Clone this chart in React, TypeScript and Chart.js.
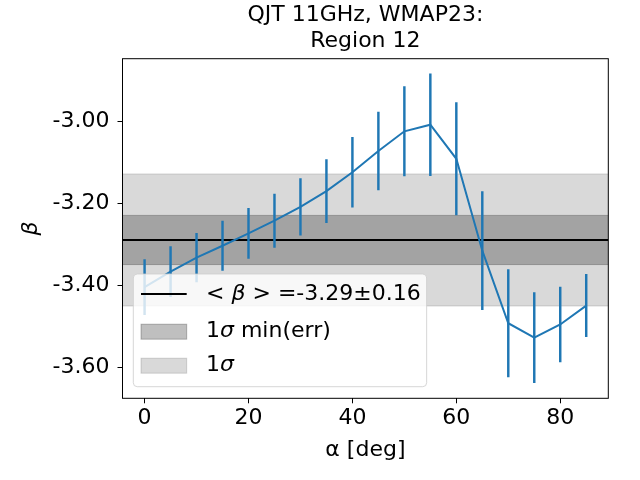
import React, { useEffect, useRef } from "react";
import { Chart, registerables } from "chart.js";

Chart.register(...registerables);

const FONT = "DejaVu Sans";

// angle of the axis [deg]
const alphaDeg = [0, 5, 10, 15, 20, 25, 30, 35, 40, 45, 50, 55, 60, 65, 70, 75, 80, 85];
// spectral index and its 1 sigma error
const betaValues = [
  -3.404, -3.366, -3.332, -3.303, -3.273, -3.242, -3.208, -3.17, -3.124,
  -3.072, -3.024, -3.008, -3.091, -3.315, -3.492, -3.527, -3.495, -3.449,
];
const betaErrors = [
  0.067, 0.061, 0.059, 0.06, 0.061, 0.065, 0.069, 0.077, 0.085,
  0.095, 0.109, 0.124, 0.137, 0.144, 0.131, 0.11, 0.091, 0.076,
];

const meanBeta = -3.289;
const sigmaBeta = 0.161;
const minErrBeta = 0.06;

const xLimits = [-4.25, 89.25];
const yLimits = [-3.675, -2.847];
const xTicks = [0, 20, 40, 60, 80];
const yTicks = [-3.6, -3.4, -3.2, -3.0];

const titleLines = ["QJT 11GHz, WMAP23:", "Region 12"];

const blue = "#1f77b4";
const darkFill = "rgba(0,0,0,0.25)";
const lightFill = "rgba(0,0,0,0.15)";

// draws greek letters in italic, like matplotlib mathtext
const richParts = (text: string) => text.split(/([αβσ])/).filter((p) => p.length > 0);
const partFont = (p: string) => (/[αβσ]/.test(p) ? `italic 22px "${FONT}"` : `22px "${FONT}"`);

const measureRich = (ctx: CanvasRenderingContext2D, text: string) => {
  let w = 0;
  for (const p of richParts(text)) {
    ctx.font = partFont(p);
    w += ctx.measureText(p).width;
  }
  return w;
};

const drawRich = (ctx: CanvasRenderingContext2D, text: string, x: number, y: number) => {
  let cx = x;
  for (const p of richParts(text)) {
    ctx.font = partFont(p);
    ctx.fillText(p, cx, y);
    cx += ctx.measureText(p).width;
  }
};

const framePlugin = {
  id: "frame",
  afterDatasetsDraw(chart: Chart) {
    const { ctx, chartArea } = chart;
    ctx.save();
    ctx.strokeStyle = "black";
    ctx.lineWidth = 1;
    ctx.strokeRect(chartArea.left, chartArea.top, chartArea.right - chartArea.left, chartArea.bottom - chartArea.top);
    ctx.restore();
  },
};

const insetLegend = {
  id: "insetLegend",
  afterDatasetsDraw(chart: Chart, _args: any, opts: any) {
    const { ctx, chartArea } = chart;
    const items = opts.items as { label: string; kind: string; color: string }[];
    const rows = [20, 57.7, 91.7];
    ctx.save();
    let textW = 0;
    items.forEach((it) => (textW = Math.max(textW, measureRich(ctx, it.label))));
    const left = chartArea.left + 10.8;
    const height = 112.7;
    const top = chartArea.bottom - 11.6 - height;
    const width = 72.7 + textW + 6;

    ctx.beginPath();
    ctx.roundRect(left, top, width, height, 4);
    ctx.fillStyle = "rgba(255,255,255,0.8)";
    ctx.fill();
    ctx.strokeStyle = "rgba(204,204,204,0.8)";
    ctx.lineWidth = 1;
    ctx.stroke();

    items.forEach((it, i) => {
      const cy = top + rows[i];
      const hx = left + 7.7;
      if (it.kind === "line") {
        ctx.strokeStyle = it.color;
        ctx.lineWidth = 2;
        ctx.beginPath();
        ctx.moveTo(hx, cy);
        ctx.lineTo(hx + 45.7, cy);
        ctx.stroke();
      } else {
        ctx.fillStyle = it.color;
        ctx.fillRect(hx, cy - 7.5, 45.7, 15);
        ctx.strokeStyle = it.color;
        ctx.lineWidth = 1;
        ctx.strokeRect(hx, cy - 7.5, 45.7, 15);
      }
      ctx.fillStyle = "black";
      ctx.textBaseline = "middle";
      ctx.textAlign = "left";
      drawRich(ctx, it.label, left + 72.7, cy);
    });
    ctx.restore();
  },
};

const hLine = (y: number) => [
  { x: xLimits[0], y },
  { x: xLimits[1], y },
];

export default function App() {
  const canvasRef = useRef<HTMLCanvasElement | null>(null);
  const chartRef = useRef<Chart | null>(null);

  useEffect(() => {
    document.body.style.margin = "0";
    const ctx = canvasRef.current?.getContext("2d");
    if (!ctx) return;
    if (chartRef.current) chartRef.current.destroy();

    const meanLabel = `< β > =${meanBeta.toFixed(2)}±${sigmaBeta.toFixed(2)}`;
    const tickFont = { family: FONT, size: 22 };

    chartRef.current = new Chart(ctx, {
      type: "line",
      data: {
        datasets: [
          {
            label: "beta",
            data: alphaDeg.map((a, i) => ({ x: a, y: betaValues[i] })),
            borderColor: blue,
            borderWidth: 2,
            pointRadius: 0,
            fill: false,
            order: 0,
          },
          {
            type: "bar",
            label: "err",
            data: alphaDeg.map((a, i) => ({ x: a, y: [betaValues[i] - betaErrors[i], betaValues[i] + betaErrors[i]] })) as any,
            backgroundColor: blue,
            borderWidth: 0,
            barThickness: 1.8,
            order: 1,
          } as any,
          {
            label: meanLabel,
            data: hLine(meanBeta),
            borderColor: "black",
            borderWidth: 2,
            pointRadius: 0,
            fill: false,
            order: 2,
          },
          {
            label: "1σ min(err)",
            data: hLine(meanBeta + minErrBeta),
            borderColor: darkFill,
            backgroundColor: darkFill,
            borderWidth: 1,
            pointRadius: 0,
            fill: "+1",
            order: 3,
          },
          {
            label: "darkLow",
            data: hLine(meanBeta - minErrBeta),
            borderColor: darkFill,
            borderWidth: 1,
            pointRadius: 0,
            fill: false,
            order: 3,
          },
          {
            label: "1σ",
            data: hLine(meanBeta + sigmaBeta),
            borderColor: lightFill,
            backgroundColor: lightFill,
            borderWidth: 1,
            pointRadius: 0,
            fill: "+1",
            order: 4,
          },
          {
            label: "lightLow",
            data: hLine(meanBeta - sigmaBeta),
            borderColor: lightFill,
            borderWidth: 1,
            pointRadius: 0,
            fill: false,
            order: 4,
          },
        ],
      },
      options: {
        animation: false,
        responsive: false,
        events: [],
        layout: { padding: { right: 31.7 } },
        plugins: {
          legend: { display: false },
          tooltip: { enabled: false },
          title: {
            display: true,
            text: titleLines,
            fullSize: false,
            color: "black",
            font: { family: FONT, size: 22, weight: "normal" },
            padding: { top: 2, bottom: 3.9 },
          },
          insetLegend: {
            items: [
              { label: meanLabel, kind: "line", color: "black" },
              { label: "1σ min(err)", kind: "patch", color: darkFill },
              { label: "1σ", kind: "patch", color: lightFill },
            ],
          },
        } as any,
        scales: {
          x: {
            type: "linear",
            min: xLimits[0],
            max: xLimits[1],
            offset: false,
            afterBuildTicks: (scale: any) => {
              scale.ticks = xTicks.map((v) => ({ value: v }));
            },
            afterFit: (scale: any) => {
              scale.height = 81.7;
            },
            grid: { offset: false, drawOnChartArea: false, drawTicks: true, tickLength: 5, color: "black" },
            border: { display: false },
            ticks: { color: "black", font: tickFont, padding: 2, maxRotation: 0 },
            title: {
              display: true,
              text: "α [deg]",
              color: "black",
              font: tickFont,
              padding: { bottom: 17 },
            },
          },
          y: {
            type: "linear",
            min: yLimits[0],
            max: yLimits[1],
            afterBuildTicks: (scale: any) => {
              scale.ticks = yTicks.map((v) => ({ value: v }));
            },
            afterFit: (scale: any) => {
              scale.width = 122.5;
            },
            grid: { offset: false, drawOnChartArea: false, drawTicks: true, tickLength: 5, color: "black" },
            border: { display: false },
            ticks: {
              color: "black",
              font: tickFont,
              padding: 8,
              callback: (v: any) => Number(v).toFixed(2),
            },
            title: {
              display: true,
              text: "β",
              color: "black",
              font: { family: FONT, size: 22, style: "italic" },
              padding: { top: 18 },
            },
          },
        },
      },
      plugins: [framePlugin, insetLegend],
    });

    return () => {
      if (chartRef.current) {
        chartRef.current.destroy();
        chartRef.current = null;
      }
    };
  }, []);

  return (
    <div style={{ width: "640px", height: "480px" }}>
      <canvas ref={canvasRef} width={640} height={480} style={{ display: "block" }} />
    </div>
  );
}
